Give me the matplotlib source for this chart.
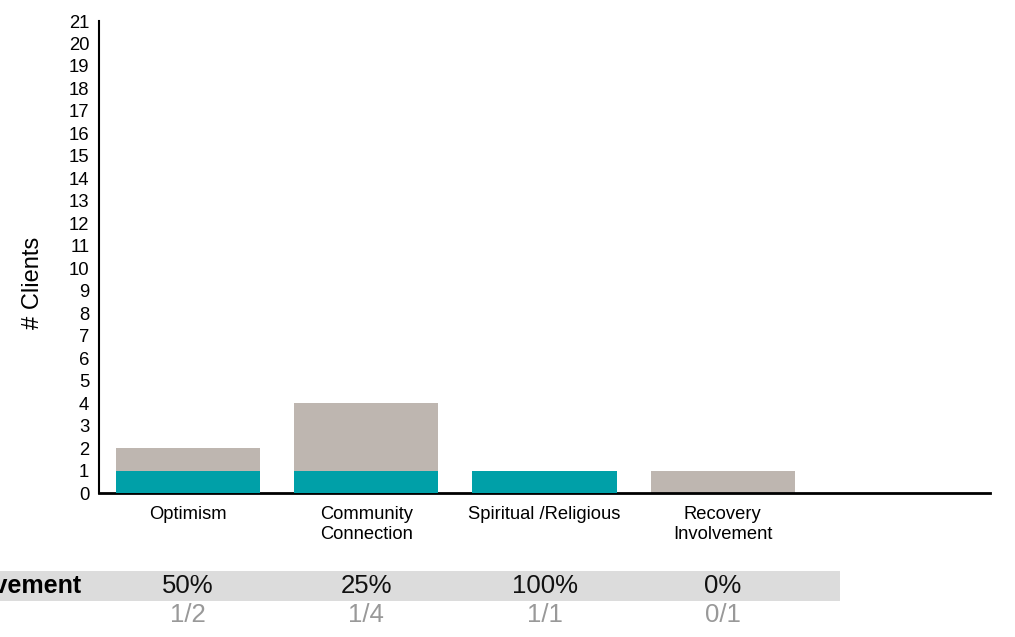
import matplotlib
matplotlib.use("Agg")
import matplotlib.pyplot as plt
from matplotlib.transforms import blended_transform_factory
from matplotlib.patches import Rectangle

categories = ["Optimism", "Community\nConnection", "Spiritual /Religious", "Recovery\nInvolvement", ""]
total = [2, 4, 1, 1, 0]
improved = [1, 1, 1, 0, 0]
yticks = list(range(0, 22))
row_label = "Improvement"

TEAL = "#00A0A8"
GRAY = "#BEB6B0"

plt.rcParams['font.family'] = ['Liberation Sans', 'DejaVu Sans']

fig = plt.figure(figsize=(10.15, 6.37), dpi=100)
ax = fig.add_axes([99/1015, 1-493/637, (990-99)/1015, (493-21)/637])

x = list(range(len(categories)))
w = 0.81
ax.bar(x, total, width=w, color=GRAY, zorder=2)
ax.bar(x, improved, width=w, color=TEAL, zorder=3)

ax.set_xlim(-0.5, len(categories) - 0.5)
ax.set_ylim(0, 21)
ax.set_yticks(yticks)
ax.set_yticklabels([str(t) for t in yticks], fontsize=13.3)
ax.set_xticks(x)
ax.set_xticklabels(categories, fontsize=13.2, linespacing=1.2)
ax.tick_params(axis='both', length=0)
ax.tick_params(axis='y', pad=7)
ax.tick_params(axis='x', pad=9.5)
for s in ['top', 'right']:
    ax.spines[s].set_visible(False)
ax.spines['bottom'].set_linewidth(2)
ax.spines['left'].set_linewidth(1.5)
ax.set_ylabel("# Clients", fontsize=17)
ax.yaxis.set_label_coords((44 - 99) / 891, (493 - 283) / 472)

# table row
fig.add_artist(Rectangle((0, 1-601/637), 840/1015, 30/637, transform=fig.transFigure,
                         facecolor="#DCDCDC", edgecolor='none', zorder=0))
tr = blended_transform_factory(ax.transData, fig.transFigure)
fig.text(82/1015, 1-586/637, row_label, ha='right', va='center', fontsize=18, fontweight='bold')
for i, (t, m) in enumerate(zip(total, improved)):
    if t == 0:
        continue
    pct = f"{round(100*m/t)}%"
    fig.text(i, 1-586/637, pct, transform=tr, ha='center', va='center', fontsize=18.5, color='#111111')
    fig.text(i, 1-615/637, f"{m}/{t}", transform=tr, ha='center', va='center', fontsize=18.5, color='#999999')

fig.savefig("out.png", dpi=100)
